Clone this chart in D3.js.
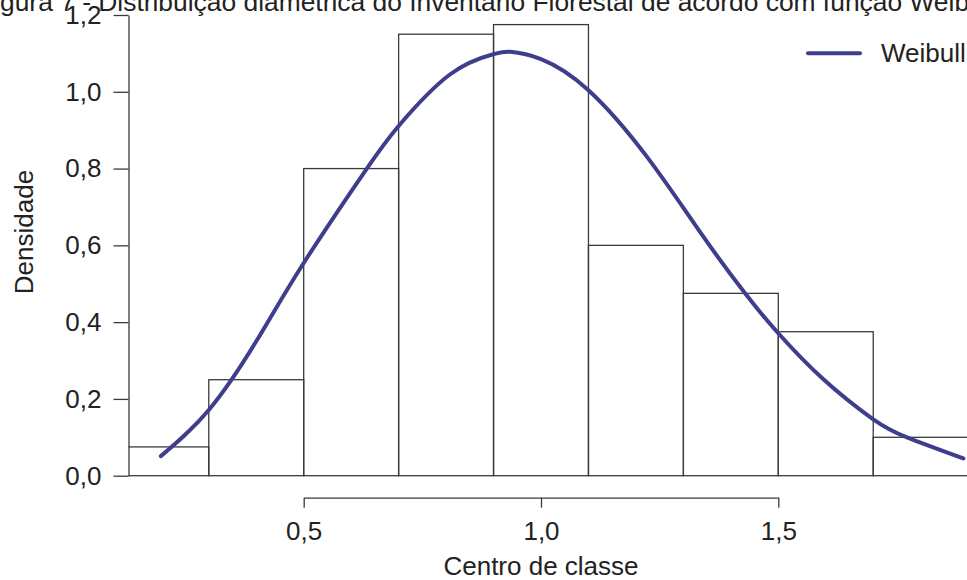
<!DOCTYPE html>
<html>
<head>
<meta charset="utf-8">
<script src="https://cdn.jsdelivr.net/npm/d3@7"></script>
<style>
    body { margin: 0; background: #fff; }
    svg { display: block; font-family: "Liberation Sans", Arial, sans-serif; }
</style>
</head>
<body>
<svg id="chart" width="967" height="580"></svg>
<script>
'use strict';

// histogram classes (lower edge, upper edge) and densities
let binStart = [0.1, 0.3, 0.5, 0.7, 0.9, 1.1, 1.3, 1.5, 1.7];
let binEnd = [0.3, 0.5, 0.7, 0.9, 1.1, 1.3, 1.5, 1.7, 1.9];
let density = [0.075, 0.25, 0.8, 1.15, 1.175, 0.6, 0.475, 0.375, 0.1];

// fitted Weibull curve
let curveX = [0.199, 0.30, 0.40, 0.50, 0.633, 0.70, 0.808, 0.90, 0.935, 1.00, 1.10, 1.223, 1.335, 1.430, 1.50, 1.595, 1.70, 1.771, 1.890];
let curveY = [0.051, 0.171, 0.350, 0.554, 0.800, 0.911, 1.045, 1.098, 1.104, 1.085, 1.004, 0.831, 0.635, 0.475, 0.371, 0.251, 0.147, 0.100, 0.045];

let yTicks = [0, 0.2, 0.4, 0.6, 0.8, 1.0, 1.2];
let xTicks = [0.5, 1.0, 1.5];

let title = "Figura 7 - Distribuição diamétrica do Inventário Florestal de acordo com função Weibull";
let fmt = d => d3.format(".1f")(d).replace(".", ",");

let svg = d3.select("#chart");
let axisLeftX = 128.5,
    axisBottomY = 497.7,
    fontSize = 26;

let x = d3.scaleLinear().domain([0.5, 1.5]).range([303.7, 778.3]);
let y = d3.scaleLinear().domain([0, 1.2]).range([475.7, 15]);

// title (cropped in the original figure)
svg.append("text")
    .attr("x", -22)
    .attr("y", 11)
    .attr("font-size", 26.4)
    .attr("fill", "#222")
    .text(title);

svg.append("clipPath").attr("id", "plotClip")
    .append("rect")
    .attr("x", axisLeftX).attr("y", 0)
    .attr("width", 967 - axisLeftX).attr("height", 580);

let bins = binStart.map((s, i) => ({x0: s, x1: binEnd[i], d: density[i]}));

svg.append("g")
    .attr("clip-path", "url(#plotClip)")
    .selectAll("rect")
    .data(bins)
    .enter().append("rect")
        .attr("x", d => x(d.x0))
        .attr("y", d => y(d.d))
        .attr("width", d => x(d.x1) - x(d.x0))
        .attr("height", d => y(0) - y(d.d))
        .attr("fill", "none")
        .attr("stroke", "#3a3a3a")
        .attr("stroke-width", 1.3);

// y axis
let gy = svg.append("g")
    .attr("transform", "translate(" + axisLeftX + ",0)")
    .call(d3.axisLeft(y).tickValues(yTicks).tickFormat(fmt).tickSize(15).tickPadding(12).tickSizeOuter(0));
gy.select(".domain").attr("stroke", "#3a3a3a").attr("stroke-width", 1.3);
gy.selectAll(".tick line").attr("stroke", "#3a3a3a").attr("stroke-width", 1.3);
gy.selectAll(".tick text").attr("font-size", fontSize).attr("fill", "#222").attr("font-family", null);

// x axis
let gx = svg.append("g")
    .attr("transform", "translate(0," + axisBottomY + ")")
    .call(d3.axisBottom(x).tickValues(xTicks).tickFormat(fmt).tickSize(10).tickPadding(14).tickSizeOuter(0));
gx.select(".domain").attr("stroke", "#3a3a3a").attr("stroke-width", 1.3);
gx.selectAll(".tick line").attr("stroke", "#3a3a3a").attr("stroke-width", 1.3);
gx.selectAll(".tick text").attr("font-size", fontSize).attr("fill", "#222").attr("font-family", null);

// axis titles
svg.append("text")
    .attr("x", x(1.0))
    .attr("y", 575)
    .attr("text-anchor", "middle")
    .attr("font-size", fontSize)
    .attr("fill", "#222")
    .text("Centro de classe");

svg.append("text")
    .attr("transform", "translate(33,232) rotate(-90)")
    .attr("text-anchor", "middle")
    .attr("font-size", fontSize)
    .attr("fill", "#222")
    .text("Densidade");

// weibull curve
let line = d3.line()
    .curve(d3.curveNatural)
    .x(d => x(d[0]))
    .y(d => y(d[1]));

svg.append("path")
    .datum(curveX.map((v, i) => [v, curveY[i]]))
    .attr("d", line)
    .attr("fill", "none")
    .attr("stroke", "#3e3e8c")
    .attr("stroke-width", 4)
    .attr("stroke-linecap", "round");

// legend
let lg = svg.append("g").attr("transform", "translate(808,53.3)");
lg.append("line")
    .attr("x1", 0).attr("x2", 52)
    .attr("stroke", "#3e3e8c")
    .attr("stroke-width", 4)
    .attr("stroke-linecap", "round");
lg.append("text")
    .attr("x", 73)
    .attr("y", 9)
    .attr("font-size", fontSize)
    .attr("fill", "#222")
    .text("Weibull");
</script>
</body>
</html>
